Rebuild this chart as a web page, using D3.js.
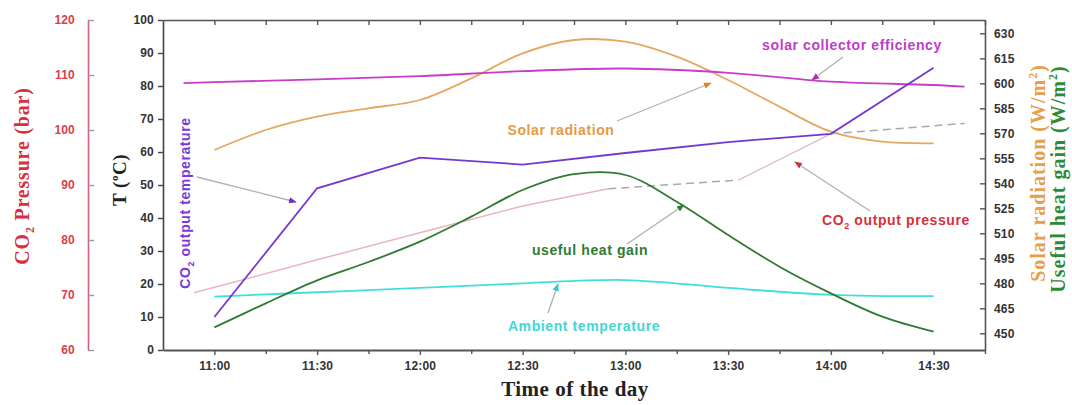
<!DOCTYPE html>
<html>
<head>
<meta charset="utf-8">
<script src="https://cdn.jsdelivr.net/npm/d3@7"></script>
<style>
  body { margin: 0; background: #fff; }
  text { font-family: "Liberation Sans", Arial, sans-serif; }
  .serif { font-family: "Liberation Serif", "DejaVu Serif", serif; font-weight: bold; }
</style>
</head>
<body>
<div id="chart"></div>
<script>
// time in minutes since midnight
var xTicks = [660, 690, 720, 750, 780, 810, 840, 870];
var xTickLabels = ["11:00", "11:30", "12:00", "12:30", "13:00", "13:30", "14:00", "14:30"];
var tTicks = [0, 10, 20, 30, 40, 50, 60, 70, 80, 90, 100];
var pTicks = [60, 70, 80, 90, 100, 110, 120];
var rTicks = [450, 465, 480, 495, 510, 525, 540, 555, 570, 585, 600, 615, 630];

// series (left T axis)
var efficiency = [[651, 80.9], [660, 81.2], [690, 82], [720, 83], [750, 84.5], [780, 85.3], [810, 84], [840, 81.3], [870, 80.3], [879, 79.8]];
var co2Temp = [[660, 10], [690, 49], [720, 58.3], [750, 56.2], [780, 59.7], [810, 63], [840, 65.5], [870, 85.5]];
var ambient = [[660, 16.2], [690, 17.5], [720, 18.8], [750, 20.2], [780, 21.2], [810, 18.8], [840, 16.7], [870, 16.3]];
// CO2 pressure (outer left axis, bar)
var pressure = [[654, 70.4], [690, 76.4], [720, 81.3], [750, 86.2], [775, 89.3], [813, 90.9], [840, 99.3], [879, 101.2]];
// right axis (W/m2)
var solarRad = [[660, 560], [675, 572], [690, 580], [705, 585], [720, 590], [735, 603], [750, 618], [765, 626], [780, 625], [795, 616], [810, 602], [825, 586], [840, 571], [855, 565], [870, 564]];
var heatGain = [[660, 453.6], [675, 468], [690, 481.8], [705, 492.8], [720, 505], [735, 520], [750, 536], [765, 545.5], [780, 545], [795, 529], [810, 509], [825, 490], [840, 474], [855, 460], [870, 451]];

function makeChart() {

  var W = 1072, H = 405;
  var pLeft = 163, pRight = 985, pTop = 20, pBottom = 350;

  var svg = d3.select("#chart").append("svg")
      .attr("width", W).attr("height", H);

  var x = d3.scaleLinear().domain([645, 885]).range([pLeft, pRight]);
  var yT = d3.scaleLinear().domain([0, 100]).range([pBottom, pTop]);
  var yP = d3.scaleLinear().domain([60, 120]).range([pBottom, pTop]);
  var yR = d3.scaleLinear().domain([440, 638]).range([pBottom, pTop]);

  var fmtTime = function(d) { var i = xTicks.indexOf(d); return i >= 0 ? xTickLabels[i] : ""; };
  var allX = d3.range(660, 886, 15);

  function styleAxis(g, col, tcol) {
    g.select(".domain").attr("stroke", col).attr("stroke-width", 1.6);
    g.selectAll(".tick line").attr("stroke", col).attr("stroke-width", 1.4);
    g.selectAll(".tick text").attr("fill", tcol).attr("font-size", 12)
      .attr("font-weight", "bold").attr("letter-spacing", 0.2)
      .attr("font-family", "Liberation Sans, Arial, sans-serif");
  }

  // x axis bottom
  var gx = svg.append("g").attr("transform", `translate(0,${pBottom})`)
    .call(d3.axisBottom(x).tickValues(allX).tickFormat(fmtTime).tickSize(5).tickSizeOuter(0).tickPadding(6));
  styleAxis(gx, "#555", "#333");
  gx.select(".domain").attr("stroke-width", 2.2);
  gx.selectAll(".tick line").attr("y2", function(d) { return xTicks.indexOf(d) >= 0 ? 5 : 4; });

  // top border
  var gtop = svg.append("g").attr("transform", `translate(0,${pTop})`)
    .call(d3.axisTop(x).tickValues(allX).tickFormat("").tickSize(-5).tickSizeOuter(0));
  styleAxis(gtop, "#555", "#333");

  // T axis
  var gT = svg.append("g").attr("transform", `translate(${pLeft},0)`)
    .call(d3.axisLeft(yT).tickValues(tTicks).tickSize(5).tickSizeOuter(0).tickPadding(4));
  styleAxis(gT, "#444", "#333");

  // right axis
  var gR = svg.append("g").attr("transform", `translate(${pRight},0)`)
    .call(d3.axisRight(yR).tickValues(rTicks).tickSize(-5).tickSizeOuter(0).tickPadding(9));
  styleAxis(gR, "#555", "#333");

  // CO2 pressure axis
  var gP = svg.append("g").attr("transform", "translate(88,0)")
    .call(d3.axisLeft(yP).tickValues(pTicks).tickSize(-6).tickSizeOuter(0).tickPadding(13));
  styleAxis(gP, "#999", "#d8404a");
  gP.select(".domain").attr("stroke", "#d9607a");

  // lines
  var smooth = d3.curveCatmullRom.alpha(0.5);
  var lineT = d3.line().x(d => x(d[0])).y(d => yT(d[1]));
  var lineTs = d3.line().x(d => x(d[0])).y(d => yT(d[1])).curve(smooth);
  var lineP = d3.line().x(d => x(d[0])).y(d => yP(d[1]));
  var lineR = d3.line().x(d => x(d[0])).y(d => yR(d[1])).curve(smooth);

  function seg(data, a, b) { return data.filter(d => d[0] >= a && d[0] <= b); }

  svg.append("path").datum(seg(pressure, 654, 775)).attr("d", lineP)
    .attr("fill", "none").attr("stroke", "#eab4c4").attr("stroke-width", 1.5);
  svg.append("path").datum(seg(pressure, 775, 813)).attr("d", lineP)
    .attr("fill", "none").attr("stroke", "#a8a8b0").attr("stroke-width", 1.5).attr("stroke-dasharray", "8,5");
  svg.append("path").datum(seg(pressure, 813, 840)).attr("d", lineP)
    .attr("fill", "none").attr("stroke", "#e4bccb").attr("stroke-width", 1.5);
  svg.append("path").datum(seg(pressure, 840, 879)).attr("d", lineP)
    .attr("fill", "none").attr("stroke", "#a8a8b0").attr("stroke-width", 1.5).attr("stroke-dasharray", "8,5");

  svg.append("path").datum(ambient).attr("d", lineTs)
    .attr("fill", "none").attr("stroke", "#3fe0dc").attr("stroke-width", 1.8);
  svg.append("path").datum(solarRad).attr("d", lineR)
    .attr("fill", "none").attr("stroke", "#e6a85e").attr("stroke-width", 1.8);
  svg.append("path").datum(heatGain).attr("d", lineR)
    .attr("fill", "none").attr("stroke", "#2f7a34").attr("stroke-width", 1.8);
  svg.append("path").datum(efficiency).attr("d", lineTs)
    .attr("fill", "none").attr("stroke", "#c83ccc").attr("stroke-width", 1.8);
  svg.append("path").datum(co2Temp).attr("d", lineT)
    .attr("fill", "none").attr("stroke", "#7438d0").attr("stroke-width", 1.8);

  // arrow markers
  var defs = svg.append("defs");
  function marker(id, col) {
    defs.append("marker").attr("id", id).attr("viewBox", "0 0 10 10")
      .attr("refX", 9).attr("refY", 5).attr("markerWidth", 6).attr("markerHeight", 6)
      .attr("orient", "auto")
      .append("path").attr("d", "M0,1L10,5L0,9Z").attr("fill", col);
  }
  marker("mEff", "#b030b0");
  marker("mSol", "#e08030");
  marker("mTmp", "#6a30c0");
  marker("mPre", "#d03040");
  marker("mHeat", "#2f7a34");
  marker("mAmb", "#30c8c8");

  function arrow(x1, y1, x2, y2, m) {
    svg.append("line").attr("x1", x1).attr("y1", y1).attr("x2", x2).attr("y2", y2)
      .attr("stroke", "#b0b0b0").attr("stroke-width", 1.3)
      .attr("marker-end", `url(#${m})`);
  }
  arrow(843, 57, 812, 80, "mEff");
  arrow(617, 121, 711, 83, "mSol");
  arrow(197, 177, 296, 202, "mTmp");
  arrow(870, 211, 795, 162, "mPre");
  arrow(627, 244, 684, 205, "mHeat");
  arrow(548, 313, 558, 284, "mAmb");

  // annotation labels
  function label(tx, ty, col, parts, rot) {
    var t = svg.append("text").attr("x", tx).attr("y", ty)
      .attr("text-anchor", "middle").attr("font-size", 14).attr("font-weight", "bold")
      .attr("letter-spacing", 0.6).attr("fill", col);
    if (rot) t.attr("transform", `rotate(-90,${tx},${ty})`);
    parts.forEach(function(p) {
      var s = t.append("tspan").text(p[0]);
      if (p[1]) s.attr("font-size", 9).attr("dy", 4);
      if (p[2]) s.attr("dy", -4);
    });
  }
  label(852, 50, "#c03cc8", [["solar collector efficiency"]]);
  label(561, 135, "#e49a48", [["Solar radiation"]]);
  label(590, 255, "#2f7a34", [["useful heat gain"]]);
  label(584, 331, "#3fd8d8", [["Ambient temperature"]]);
  label(896, 225, "#d8303c", [["CO"], ["2", true], [" output pressure", false, true]]);
  label(190, 203, "#7a38d8", [["CO"], ["2", true], [" output temperature", false, true]], true);

  // axis titles
  svg.append("text").attr("class", "serif").attr("x", 575).attr("y", 396)
    .attr("text-anchor", "middle").attr("font-size", 21).attr("letter-spacing", 0.5)
    .attr("fill", "#222")
    .text("Time of the day");

  var tT = svg.append("text").attr("class", "serif")
    .attr("transform", "translate(126,180) rotate(-90)")
    .attr("text-anchor", "middle").attr("font-size", 19).attr("letter-spacing", 0.5)
    .attr("fill", "#222");
  tT.append("tspan").text("T (");
  tT.append("tspan").text("o").attr("font-size", 11).attr("dy", -8);
  tT.append("tspan").text("C)").attr("dy", 8);

  var tP = svg.append("text").attr("class", "serif")
    .attr("transform", "translate(29,176) rotate(-90)")
    .attr("text-anchor", "middle").attr("font-size", 20).attr("letter-spacing", 0.8)
    .attr("fill", "#d8303c");
  tP.append("tspan").text("CO");
  tP.append("tspan").text("2").attr("font-size", 12).attr("dy", 5);
  tP.append("tspan").text(" Pressure (bar)").attr("dy", -5);

  function rightTitle(tx, ty, col, txt) {
    var t = svg.append("text").attr("class", "serif")
      .attr("transform", `translate(${tx},${ty}) rotate(-90)`)
      .attr("text-anchor", "middle").attr("font-size", 20).attr("letter-spacing", 1)
      .attr("fill", col);
    t.append("tspan").text(txt + " (W/m");
    t.append("tspan").text("2").attr("font-size", 12).attr("dy", -8);
    t.append("tspan").text(")").attr("dy", 8);
  }
  rightTitle(1045, 173, "#e6a04c", "Solar radiation");
  rightTitle(1065, 179, "#2f8a34", "Useful heat gain");
}

makeChart();
</script>
</body>
</html>
